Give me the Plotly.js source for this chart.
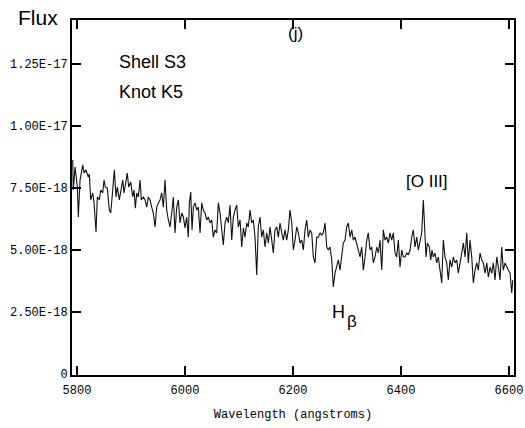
<!DOCTYPE html>
<html>
<head>
<meta charset="utf-8">
<script src="https://cdn.plot.ly/plotly-3.0.1.min.js"></script>
<style>
  html, body { margin: 0; padding: 0; background: #fff; }
  #chart { width: 525px; height: 428px; }
</style>
</head>
<body>
<div id="chart"></div>
<script>
// Wavelength in angstroms
const wavelength = [
  5792.0,5793.1,5796.3,5800.6,5802.4,5805.6,5810.6,5813.0,5816.7,5820.9,
  5822.8,5825.4,5829.1,5831.5,5835.2,5837.6,5841.3,5843.9,5847.6,5850.0,
  5852.4,5856.1,5859.8,5862.4,5866.1,5869.1,5872.2,5874.6,5878.3,5880.9,
  5884.6,5887.0,5890.7,5893.1,5895.7,5899.4,5903.1,5905.6,5908.0,5910.6,
  5913.5,5916.7,5919.1,5922.8,5925.9,5929.1,5932.0,5935.2,5938.3,5941.3,
  5944.4,5947.6,5950.6,5953.7,5956.9,5959.8,5963.0,5966.1,5969.1,5972.2,
  5975.4,5978.3,5981.5,5984.6,5987.6,5990.7,5993.9,5996.9,
  6000.0,6003.1,6006.1,6008.0,6010.6,6013.0,6015.4,6018.5,6021.7,6024.6,
  6027.8,6030.9,6033.9,6037.0,6040.2,6043.1,6046.3,6049.4,6052.4,6055.6,
  6058.7,6061.7,6064.8,6068.0,6070.9,6074.1,6077.2,6080.2,6083.3,6086.5,
  6089.4,6092.6,6095.7,6098.7,6101.9,6105.0,6108.0,6111.1,6114.3,6117.2,
  6120.4,6123.5,6126.5,6129.6,6132.8,6135.7,6138.9,6142.0,6145.0,6148.1,
  6151.3,6154.3,6157.4,6160.6,6163.5,6166.7,6169.8,6172.8,6175.9,6179.1,
  6182.0,6185.2,6188.3,6191.3,6194.4,6197.6,6200.6,
  6203.7,6206.9,6209.8,6213.0,6216.1,6219.1,6222.2,6225.4,6228.3,6231.5,
  6234.6,6237.6,6240.7,6243.9,6246.9,6250.0,6253.1,6256.1,6259.3,6262.4,
  6265.4,6268.5,6271.7,6274.6,6277.8,6280.9,6283.9,6287.0,6290.2,6293.1,
  6296.3,6299.4,6302.4,6305.6,6308.7,6311.7,6314.8,6318.0,6320.9,6324.1,
  6327.2,6330.2,6333.3,6336.5,6339.4,6342.6,6345.7,6348.7,6351.9,6355.0,
  6358.0,6361.1,6364.3,6367.2,6370.4,6373.5,6376.5,6379.6,6382.8,6385.7,
  6388.9,6392.0,6395.0,6398.1,6401.3,6404.3,
  6407.4,6410.6,6413.5,6416.7,6419.8,6422.8,6425.9,6429.1,6432.0,6435.2,
  6438.3,6441.3,6443.1,6446.3,6448.7,6452.4,6455.0,6457.4,
  6459.8,6463.0,6466.1,6469.1,6472.2,6475.4,6478.3,6481.5,6484.6,6487.6,
  6490.7,6493.9,6496.9,6500.0,6503.1,6506.1,6509.3,6512.4,6515.4,6518.5,
  6521.7,6524.6,6527.8,6530.9,6533.9,6537.0,6540.2,6543.1,6546.3,6549.4,
  6552.4,6555.6,6558.7,6561.7,6564.8,6568.0,6570.9,6574.1,6577.2,6580.2,
  6583.3,6586.5,6589.4,6592.6,6595.7,6598.7,6601.9,6605.0,6606.9
];

// Flux in units of 1e-18
const fluxE18 = [
  8.63,7.42,8.35,7.54,6.33,7.82,8.43,8.10,8.23,7.94,
  8.06,7.02,7.30,6.90,5.73,7.14,7.02,7.42,7.30,7.82,
  7.54,7.50,6.61,6.49,7.42,8.23,7.14,7.54,7.02,7.42,
  7.82,7.30,7.70,8.10,7.54,7.74,7.14,7.42,6.69,7.30,
  7.14,7.82,7.02,7.14,7.02,6.73,7.14,7.02,6.73,6.49,
  5.93,6.73,6.90,7.02,7.30,6.73,7.82,6.61,6.21,5.93,
  6.49,7.14,5.69,6.73,7.02,6.09,6.49,6.33,
  5.89,6.33,5.52,6.90,7.34,5.81,6.73,6.90,6.61,6.73,
  5.69,6.90,6.61,6.49,6.21,6.33,6.09,6.21,5.52,5.81,
  5.69,6.90,6.49,5.93,5.20,6.09,6.33,6.09,6.81,5.40,
  6.33,6.61,6.81,5.93,6.21,5.12,5.89,5.52,6.09,5.93,
  6.61,6.09,6.21,5.52,3.99,5.93,6.33,5.52,5.81,5.12,
  5.69,5.28,5.93,5.40,4.88,5.81,5.93,5.52,6.09,5.69,
  5.40,5.81,5.40,5.81,6.61,6.09,5.00,
  5.40,5.93,5.69,5.28,5.40,5.00,5.81,6.21,5.52,5.81,
  5.69,4.72,4.48,5.52,5.52,5.69,5.60,5.69,6.09,5.12,
  5.00,5.12,4.60,3.51,4.07,4.31,4.60,4.19,4.88,5.28,
  5.40,5.93,6.09,5.52,5.81,5.40,5.52,5.28,5.00,4.72,
  5.12,4.19,4.72,5.40,5.69,5.00,5.12,4.48,4.72,5.12,
  4.88,5.40,4.19,5.81,5.40,5.52,5.28,5.69,5.40,5.69,
  4.88,4.72,5.40,4.31,5.00,4.72,
  4.72,4.88,4.80,5.00,5.52,5.81,5.12,5.52,5.00,5.40,
  5.69,7.02,6.09,4.72,5.28,5.12,4.60,5.00,
  4.72,4.88,4.48,4.72,4.19,3.67,5.40,4.72,4.48,3.79,
  4.60,4.31,4.72,4.48,4.60,4.07,4.48,5.00,5.28,4.72,
  5.69,4.48,5.40,4.72,3.67,4.19,4.48,4.19,4.88,4.60,
  4.48,4.07,4.48,3.91,4.31,4.07,4.48,3.79,4.72,4.31,
  3.79,5.12,4.19,4.48,4.31,4.19,4.07,3.27,3.79
];

const xTickVals = [5800, 6000, 6200, 6400, 6600];
const xTickText = ['5800', '6000', '6200', '6400', '6600'];
const yTickVals = [0, 2.5e-18, 5.0e-18, 7.5e-18, 1.0e-17, 1.25e-17];
const yTickText = ['0', '2.50E-18', '5.00E-18', '7.50E-18', '1.00E-17', '1.25E-17'];

const flux = fluxE18.map(v => v * 1e-18);

const mono = 'Liberation Mono, DejaVu Sans Mono, monospace';
const sans = 'Liberation Sans, Arial, sans-serif';

const trace = {
  x: wavelength,
  y: flux,
  type: 'scatter',
  mode: 'lines',
  line: { color: '#111111', width: 1.1 },
  hoverinfo: 'skip',
  showlegend: false
};

// plot box: left 72, right 514, top 20, bottom 375
const L = 72, R = 514, T = 20, B = 375;
const px = x => (x - L) / (R - L);
const py = y => (B - y) / (B - T);

const layout = {
  width: 525,
  height: 428,
  margin: { l: L, r: 525 - R, t: T, b: 428 - B, pad: 0 },
  paper_bgcolor: '#ffffff',
  plot_bgcolor: '#ffffff',
  showlegend: false,
  xaxis: {
    range: [5790.7, 6609.2],
    tickmode: 'array',
    tickvals: xTickVals,
    ticktext: xTickText,
    ticks: 'inside',
    ticklen: 9,
    tickwidth: 2,
    tickcolor: '#000',
    showline: true,
    linewidth: 2,
    linecolor: '#000',
    mirror: 'ticks',
    showgrid: false,
    zeroline: false,
    ticklabelstandoff: 3,
    tickfont: { family: mono, size: 12, color: '#000' },
    title: { text: 'Wavelength (angstroms)', font: { family: mono, size: 12, color: '#000' }, standoff: 12 },
    automargin: false
  },
  yaxis: {
    range: [-0.04e-18, 14.274e-18],
    tickmode: 'array',
    tickvals: yTickVals,
    ticktext: yTickText,
    ticks: 'inside',
    ticklen: 9,
    tickwidth: 2,
    tickcolor: '#000',
    showline: true,
    linewidth: 2,
    linecolor: '#000',
    mirror: 'ticks',
    showgrid: false,
    zeroline: false,
    tickfont: { family: mono, size: 12, color: '#000' },
    automargin: false
  },
  annotations: [
    { text: 'Flux', xref: 'paper', yref: 'paper', x: px(16), y: py(17), xanchor: 'left', yanchor: 'middle',
      showarrow: false, font: { family: sans, size: 21, color: '#000' } },
    { text: 'Shell S3', xref: 'paper', yref: 'paper', x: px(117), y: py(62), xanchor: 'left', yanchor: 'middle',
      showarrow: false, font: { family: sans, size: 18, color: '#000' } },
    { text: 'Knot K5', xref: 'paper', yref: 'paper', x: px(117), y: py(92), xanchor: 'left', yanchor: 'middle',
      showarrow: false, font: { family: sans, size: 18, color: '#000' } },
    { text: '(j)', xref: 'paper', yref: 'paper', x: px(295), y: py(34), xanchor: 'center', yanchor: 'middle',
      showarrow: false, font: { family: sans, size: 17, color: '#000' } },
    { text: '[O III]', xref: 'paper', yref: 'paper', x: px(427), y: py(182), xanchor: 'center', yanchor: 'middle',
      showarrow: false, font: { family: sans, size: 17, color: '#000' } },
    { text: 'H', xref: 'paper', yref: 'paper', x: px(330), y: py(312), xanchor: 'left', yanchor: 'middle',
      showarrow: false, font: { family: sans, size: 18, color: '#000' } },
    { text: 'β', xref: 'paper', yref: 'paper', x: px(345), y: py(321), xanchor: 'left', yanchor: 'middle',
      showarrow: false, font: { family: sans, size: 17, color: '#000' } }
  ]
};

Plotly.newPlot('chart', [trace], layout, { staticPlot: true, displayModeBar: false });
</script>
</body>
</html>
